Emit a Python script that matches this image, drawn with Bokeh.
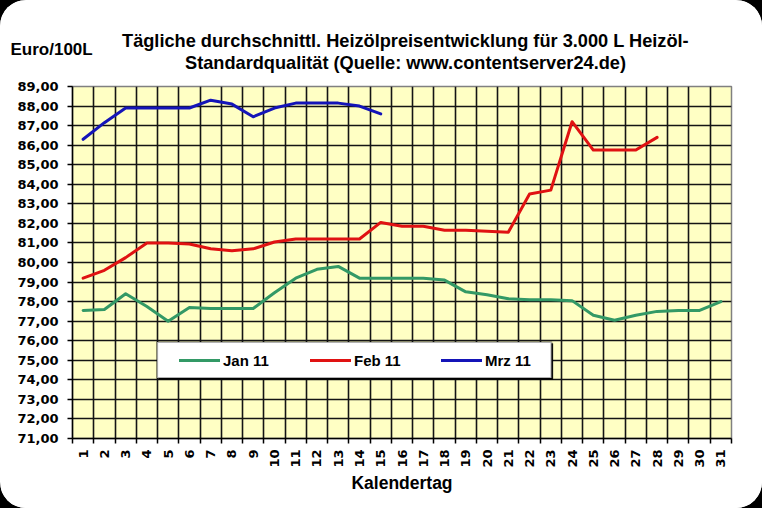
import numpy as np
from bokeh.plotting import figure
from bokeh.layouts import column
from bokeh.models import (Range1d, FixedTicker, Legend, LegendItem, Label, BoxAnnotation)
from bokeh.embed import file_html
from bokeh.resources import INLINE

# ---------------- data ----------------
days = list(range(1, 32))
x_tick_labels = [str(d) for d in days]

jan_11 = [77.55, 77.6, 78.4, 77.75, 77.0, 77.7, 77.65, 77.65, 77.65, 78.45,
          79.2, 79.65, 79.8, 79.2, 79.2, 79.2, 79.2, 79.1, 78.5, 78.35,
          78.15, 78.1, 78.1, 78.05, 77.3, 77.05, 77.3, 77.5, 77.55, 77.55, 78.0]
feb_11 = [79.2, 79.6, 80.25, 81.0, 81.0, 80.95, 80.7, 80.6, 80.7, 81.05,
          81.2, 81.2, 81.2, 81.2, 82.05, 81.85, 81.85, 81.65, 81.65, 81.6,
          81.55, 83.5, 83.7, 87.2, 85.75, 85.75, 85.75, 86.4]
mrz_11 = [86.3, 87.15, 87.9, 87.9, 87.9, 87.9, 88.3, 88.1, 87.45, 87.9,
          88.15, 88.15, 88.15, 88.0, 87.6]

series_names = ["Jan 11", "Feb 11", "Mrz 11"]
series_values = [jan_11, feb_11, mrz_11]
series_colors = ["#339966", "#E01212", "#1414B8"]

y_ticks = list(range(71, 90))
y_tick_labels = [f"{v},00" for v in y_ticks]

title_line1 = "Tägliche durchschnittl. Heizölpreisentwicklung für 3.000 L Heizöl-"
title_line2 = "Standardqualität (Quelle: www.contentserver24.de)"
y_unit_text = "Euro/100L"
x_title = "Kalendertag"

W = 762
HEAD_H = 80
lab_font = "Liberation Sans"

# ---------------- header (title texts) ----------------
head = figure(width=W, height=HEAD_H, x_range=Range1d(0, W), y_range=Range1d(HEAD_H, 0),
              min_border=0, output_backend="svg", toolbar_location=None,
              background_fill_color="white", border_fill_color="white",
              outline_line_color=None, frame_align=False)
head.axis.visible = False
head.grid.visible = False
for txt, xx, yy, align, size in [(title_line1, 405, 40.5, "center", "18.2px"),
                                 (title_line2, 405, 62.8, "center", "18.2px"),
                                 (y_unit_text, 10, 49, "left", "17px")]:
    head.add_layout(Label(x=xx, y=yy, text=txt, text_align=align,
                          text_baseline="alphabetic", text_font=lab_font,
                          text_color="black", text_font_style="bold",
                          text_font_size=size))

# ---------------- main chart ----------------
p = figure(frame_width=659, frame_height=352,
           min_border_left=72, min_border_right=31,
           min_border_top=6, min_border_bottom=70,
           x_range=Range1d(0.5, 31.5), y_range=Range1d(71, 89),
           output_backend="svg", toolbar_location=None,
           background_fill_color="#FFFFC4", border_fill_color="white",
           outline_line_color="#808080", outline_line_width=1.5,
           frame_align=False)

boundaries = [d + 0.5 for d in range(0, 32)]

p.xgrid.ticker = FixedTicker(ticks=boundaries)
p.ygrid.ticker = FixedTicker(ticks=y_ticks)
for g in (p.xgrid, p.ygrid):
    g.grid_line_color = "#141414"
    g.grid_line_width = 1.6

xa = p.xaxis[0]
xa.ticker = FixedTicker(ticks=days, minor_ticks=boundaries)
xa.major_label_overrides = {d: lab for d, lab in zip(days, x_tick_labels)}
xa.major_label_orientation = np.pi / 2
xa.major_tick_line_color = None
xa.major_tick_out = 5
xa.major_tick_in = 0
xa.minor_tick_line_color = "black"
xa.minor_tick_line_width = 1.5
xa.minor_tick_out = 5
xa.minor_tick_in = 0
xa.major_label_standoff = 6
xa.axis_line_color = "black"
xa.axis_line_width = 1.5
xa.axis_label = x_title
xa.axis_label_text_font = lab_font
xa.axis_label_text_font_style = "bold"
xa.axis_label_text_font_size = "17.5px"
xa.axis_label_text_color = "black"
xa.axis_label_standoff = 2

ya = p.yaxis[0]
ya.ticker = FixedTicker(ticks=y_ticks)
ya.major_label_overrides = {v: lab for v, lab in zip(y_ticks, y_tick_labels)}
ya.major_tick_out = 5
ya.major_tick_in = 0
ya.major_tick_line_width = 1.5
ya.minor_tick_line_color = None
ya.major_label_standoff = 9
ya.axis_line_color = "black"
ya.axis_line_width = 1.5

for ax in (xa, ya):
    ax.major_label_text_font = "DejaVu Sans"
    ax.major_label_text_font_style = "bold"
    ax.major_label_text_font_size = "13px"
    ax.major_label_text_color = "black"

# legend box (white with black border and slight shadow)
shadow = BoxAnnotation(left=4.55, right=23.1, top=75.86, bottom=74.02,
                       fill_color="black", fill_alpha=1, line_color="black")
box = BoxAnnotation(left=4.48, right=23.03, top=75.93, bottom=74.09,
                    fill_color="white", fill_alpha=1,
                    line_color="black", line_width=2)
p.add_layout(shadow)
p.add_layout(box)

items = []
for name, vals, col in zip(series_names, series_values, series_colors):
    r = p.line(days[:len(vals)], vals, line_color=col, line_width=3,
               line_join="round", line_cap="round")
    items.append(LegendItem(label=name, renderers=[r]))

legend = Legend(items=items, orientation="horizontal", location=(99, 60),
                padding=8, margin=0, spacing=27, glyph_width=41,
                glyph_height=20, label_height=20, label_width=60,
                label_standoff=3, background_fill_alpha=0, border_line_alpha=0,
                label_text_font=lab_font, label_text_color="black",
                label_text_font_style="bold", label_text_font_size="15px")
p.add_layout(legend, "center")

page = column(head, p, spacing=0,
              styles={"border-radius": "26px", "overflow": "hidden",
                      "box-shadow": "0 0 0 40px black",
                      "background-color": "white"})

open("out.html", "w").write(file_html(page, INLINE))
